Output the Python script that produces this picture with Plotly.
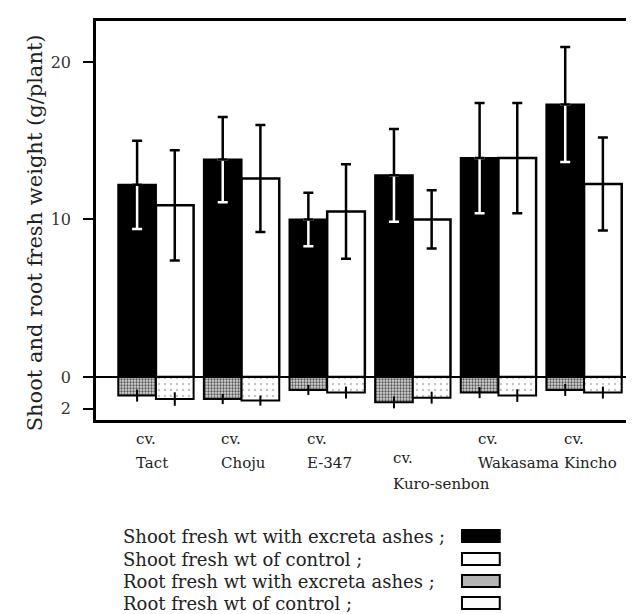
import numpy as np
import plotly.graph_objects as go

# ---------------- data ----------------
cultivars = ["Tact", "Choju", "E-347", "Kuro-senbon", "Wakasama", "Kincho"]
shoot_ash = [12.2, 13.8, 10.0, 12.8, 13.9, 17.3]
shoot_ash_err = [2.8, 2.7, 1.7, 2.95, 3.5, 3.65]
shoot_ctrl = [10.9, 12.6, 10.5, 10.0, 13.9, 12.25]
shoot_ctrl_err = [3.5, 3.4, 3.0, 1.85, 3.5, 2.95]
root_ash = [1.18, 1.40, 0.82, 1.61, 0.99, 0.82]
root_ash_err = [0.38, 0.32, 0.32, 0.38, 0.35, 0.38]
root_ctrl = [1.40, 1.50, 0.99, 1.31, 1.18, 0.99]
root_ctrl_err = [0.43, 0.32, 0.38, 0.38, 0.40, 0.38]

ytick_vals = [-2, 0, 10, 20]
ytick_text = ["2", "0", "10", "20"]
legend_labels = [
    "Shoot fresh wt with excreta ashes ;",
    "Shoot fresh wt of control ;",
    "Root fresh wt with excreta ashes ;",
    "Root fresh wt of control ;",
]
ytitle = "Shoot and root fresh weight (g/plant)"

# ---------------- layout constants ----------------
W, H = 634, 614
L, R, T, B = 88, 1, 13, 202
PW, PH = W - L - R, H - T - B
FONT = "DejaVu Serif"
BW = 0.44

def px(xp):
    return (xp - L) / PW

def py(yp):
    return (H - B - yp) / PH

x = np.arange(len(cultivars))
xl = x - BW / 2
neg = lambda a: [-v for v in a]

fig = go.Figure()

# shoot bars
fig.add_trace(go.Bar(x=x, y=shoot_ash, width=BW, offset=-BW,
                     marker=dict(color="black", line=dict(color="black", width=2)),
                     name=legend_labels[0], showlegend=False))
fig.add_trace(go.Bar(x=x, y=shoot_ctrl, width=BW, offset=0,
                     marker=dict(color="white", line=dict(color="black", width=2.5)),
                     error_y=dict(type="data", array=shoot_ctrl_err, color="black",
                                  thickness=2.5, width=5),
                     name=legend_labels[1], showlegend=False))
# root bars (drawn downward)
fig.add_trace(go.Bar(x=x, y=neg(root_ash), width=BW, offset=-BW,
                     marker=dict(color="#c8c8c8", line=dict(color="black", width=2),
                                 pattern=dict(shape=".", fillmode="replace", fgcolor="#555555",
                                              bgcolor="#d6d6d6", size=3, solidity=0.45)),
                     error_y=dict(type="data", array=root_ash_err, color="black",
                                  thickness=2, width=0),
                     name=legend_labels[2], showlegend=False))
fig.add_trace(go.Bar(x=x, y=neg(root_ctrl), width=BW, offset=0,
                     marker=dict(color="white", line=dict(color="black", width=2),
                                 pattern=dict(shape=".", fillmode="replace", fgcolor="#c4c4c4",
                                              bgcolor="white", size=6, solidity=0.12)),
                     error_y=dict(type="data", array=root_ctrl_err, color="black",
                                  thickness=2, width=0),
                     name=legend_labels[3], showlegend=False))

# error bars of black shoot bars: white inside the bar, black above it
fig.add_trace(go.Scatter(x=xl, y=shoot_ash, mode="markers",
                         marker=dict(size=1, color="rgba(0,0,0,0)"),
                         error_y=dict(type="data", symmetric=False, array=[0] * len(x),
                                      arrayminus=shoot_ash_err, color="white",
                                      thickness=2.5, width=5),
                         showlegend=False, hoverinfo="skip"))
fig.add_trace(go.Scatter(x=xl, y=shoot_ash, mode="markers",
                         marker=dict(size=1, color="rgba(0,0,0,0)"),
                         error_y=dict(type="data", symmetric=False, array=shoot_ash_err,
                                      arrayminus=[0] * len(x), color="black",
                                      thickness=2.5, width=5),
                         showlegend=False, hoverinfo="skip"))

# ---------------- annotations ----------------
ann = []
# y title
ann.append(dict(text=ytitle, xref="paper", yref="paper", x=px(27), y=py(225),
                textangle=-90, showarrow=False, xanchor="center", yanchor="middle",
                font=dict(family=FONT, size=21, color="#222")))
# category labels
name_y = [455, 455, 455, 476, 455, 455]
cv_y = [431, 431, 431, 450, 431, 431]
for i, c in enumerate(cultivars):
    ann.append(dict(text="cv.", xref="x", yref="paper", x=i - 0.26, y=py(cv_y[i]),
                    showarrow=False, xanchor="left", yanchor="middle",
                    font=dict(family=FONT, size=15, color="#222")))
    ann.append(dict(text=c, xref="x", yref="paper", x=i - 0.26, y=py(name_y[i]),
                    showarrow=False, xanchor="left", yanchor="middle",
                    font=dict(family=FONT, size=15, color="#222")))
# legend
rows = [528, 551, 573, 595]
for lab, ry in zip(legend_labels, rows):
    ann.append(dict(text=lab, xref="paper", yref="paper", x=px(113), y=py(ry),
                    showarrow=False, xanchor="left", yanchor="middle",
                    font=dict(family=FONT, size=18, color="#222")))

sw_fill = ["black", "white", "#b4b4b4", "#fbfbfb"]
shapes = []
for f, ry in zip(sw_fill, rows):
    shapes.append(dict(type="rect", xref="paper", yref="paper",
                       x0=px(456), x1=px(494), y0=py(ry + 6), y1=py(ry - 6),
                       fillcolor=f, line=dict(color="black", width=2)))

fig.update_layout(
    width=W, height=H,
    margin=dict(l=L, r=R, t=T, b=B),
    plot_bgcolor="white", paper_bgcolor="white",
    barmode="overlay",
    showlegend=False,
    xaxis=dict(range=[-0.70, 5.63], showticklabels=False, ticks="",
               showgrid=False, zeroline=False, showline=True, mirror=True,
               linecolor="black", linewidth=2.5),
    yaxis=dict(range=[-2.73, 22.6], tickvals=ytick_vals, ticktext=ytick_text,
               ticks="outside", ticklen=10, tickwidth=2, tickcolor="black",
               ticklabelstandoff=9,
               tickfont=dict(family=FONT, size=16, color="#333"),
               showgrid=False, zeroline=True, zerolinecolor="black", zerolinewidth=2,
               showline=True, mirror=True, linecolor="black", linewidth=2.5),
    annotations=ann,
    shapes=shapes,
)

fig.write_html("out.html")
